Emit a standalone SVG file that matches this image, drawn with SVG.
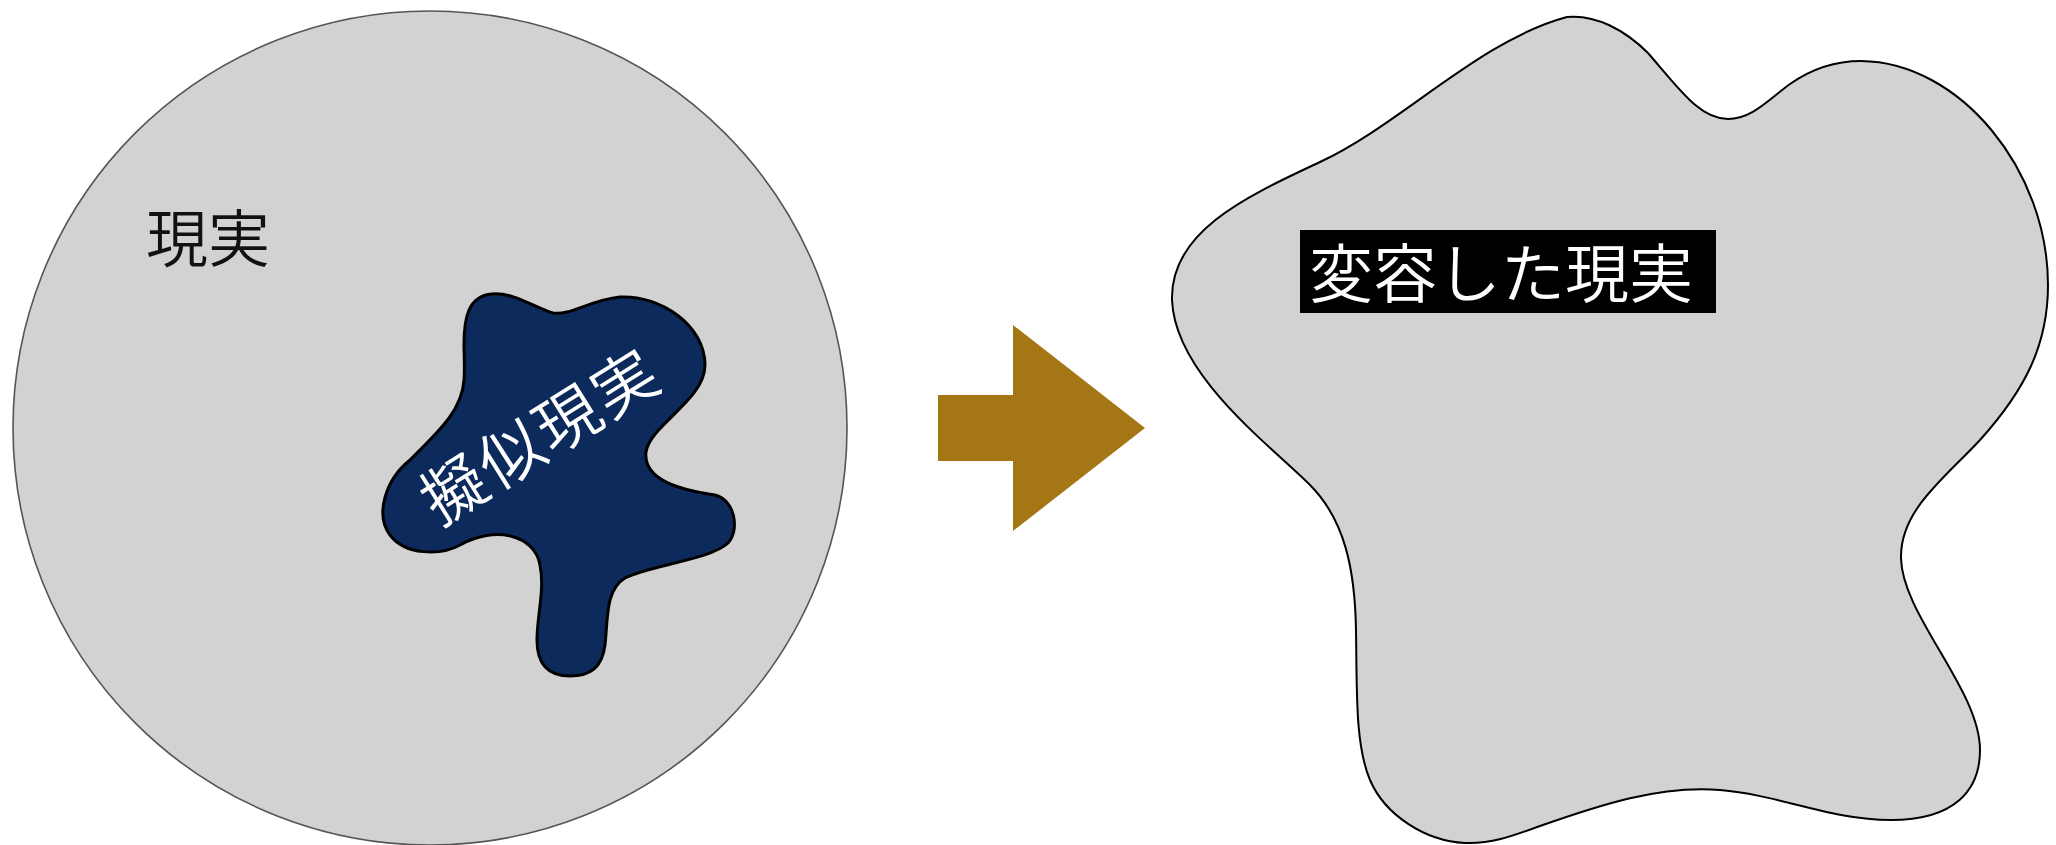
<svg xmlns="http://www.w3.org/2000/svg" width="2056" height="845" viewBox="0 0 2056 845">
<defs>
<style>
.jp{font-family:"Noto Sans CJK JP","Noto Sans CJK SC",sans-serif;font-weight:350;}
</style>
</defs>
<rect x="0" y="0" width="2056" height="845" fill="#ffffff"/>
<g id="reality">
<circle cx="430" cy="428" r="417" fill="#d2d2d2" stroke="#555555" stroke-width="1.6"/>
<text class="jp" x="146" y="262" font-size="62" fill="#111111">現実</text>
</g>
<g id="virtual-reality">
<path d="M464,345 C464,318 468,296 492,294 C514,292 535,308 553,313 C570,316 590,300 620,297 C660,295 705,325 705,365 C705,400 650,425 646,452 C643,480 680,490 715,495 C735,500 740,530 728,543 C710,560 650,565 625,578 C605,590 608,620 605,645 C602,668 590,676 570,676 C545,676 537,660 537,640 C537,615 545,590 540,565 C535,535 495,525 460,545 C440,556 405,555 390,535 C375,515 385,480 410,460 C440,430 462,410 464,380 C465,368 464,356 464,345 Z" fill="#0c2a5b" stroke="#000000" stroke-width="3"/>
<text class="jp" x="538" y="432" font-size="64" letter-spacing="3" fill="#ffffff" text-anchor="middle" dominant-baseline="central" transform="rotate(-32 538 432)">擬似現実</text>
</g>
<g id="connectors">
<polygon points="938,395 1013,395 1013,325 1145,428 1013,531 1013,461 938,461" fill="#a57614"/>
</g>
<g id="transformed-reality">
<path d="M1567,17 C1595,14 1625,30 1648,53 C1680,90 1700,119 1728,119 C1752,119 1768,100 1790,84 C1810,70 1835,61 1861,61 C1960,62 2048,170 2048,285 C2048,345 2025,390 1980,440 C1945,478 1900,510 1901,558 C1902,615 1980,690 1980,750 C1980,790 1955,820 1891,820 C1830,820 1780,795 1720,790 C1660,785 1600,805 1540,826 C1510,837 1490,844 1465,843 C1425,841 1385,815 1370,780 C1355,745 1357,690 1356,630 C1355,570 1345,520 1310,485 C1270,445 1175,375 1172,300 C1170,230 1250,195 1320,162 C1400,125 1480,40 1567,17 Z" fill="#d2d2d2" stroke="#000000" stroke-width="2"/>
<rect x="1300" y="230" width="416" height="83" fill="#000000"/>
<text class="jp" x="1309" y="297" font-size="64" fill="#ffffff">変容した現実</text>
</g>
</svg>
